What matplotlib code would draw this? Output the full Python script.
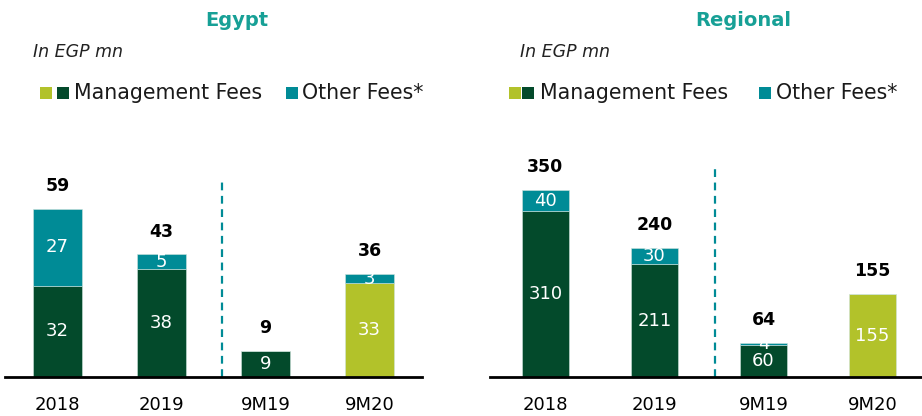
import matplotlib
matplotlib.use("Agg")
import matplotlib.pyplot as plt
from matplotlib.patches import Rectangle

plt.rcParams["font.family"] = ["DejaVu Sans"]

W, H = 922, 416

periods = ["2018", "2019", "9M19", "9M20"]

egypt_mgmt = [32, 38, 9, 33]
egypt_other = [27, 5, 0, 3]
egypt_total = [59, 43, 9, 36]

regional_mgmt = [310, 211, 60, 155]
regional_other = [40, 30, 4, 0]
regional_total = [350, 240, 64, 155]

DARK = "#034a2b"
LIME = "#b2c22a"
TEAL = "#008b96"
TITLE = "#17a096"
mgmt_colors = [DARK, DARK, DARK, LIME]


def px_axes(x0, x1, y_top, y_base):
    """Axes placed by pixel box (y measured from the top)."""
    return fig.add_axes([x0 / W, 1 - y_base / H, (x1 - x0) / W, (y_base - y_top) / H])


def panel(ax, mgmt, other, total, xlim, ymax, width, sep_x, sep_top):
    xs = range(len(periods))
    ax.bar(xs, mgmt, width=width, color=mgmt_colors, edgecolor="#cfe3dc", linewidth=0.4)
    ax.bar(xs, other, width=width, bottom=mgmt, color=TEAL, edgecolor="#cfe3dc", linewidth=0.4)
    for x, m, o, t in zip(xs, mgmt, other, total):
        ax.text(x, m / 2, str(m), ha="center", va="center", color="white", fontsize=13)
        if o:
            ax.text(x, m + o / 2, str(o), ha="center", va="center", color="white", fontsize=13)
        ax.annotate(str(t), (x, m + o), xytext=(0, 16.5), textcoords="offset points",
                    ha="center", va="center", fontsize=12.5, fontweight="bold", color="black")
    ax.axvline(sep_x, ymin=0, ymax=sep_top / ymax, color=TEAL, linestyle=(0, (3.5, 2.5)),
               linewidth=1.6)
    ax.set_xlim(*xlim)
    ax.set_ylim(0, ymax)
    ax.set_xticks(list(xs))
    ax.set_xticklabels(periods, fontsize=13)
    ax.tick_params(axis="x", length=0, pad=14)
    ax.set_yticks([])
    for side in ("top", "left", "right"):
        ax.spines[side].set_visible(False)
    ax.spines["bottom"].set_linewidth(2)
    ax.spines["bottom"].set_color("black")


def legend(x_lime, x_dark, x_text1, x_teal, x_text2, yc=93, sq=12):
    for x, c in ((x_lime, LIME), (x_dark, DARK), (x_teal, TEAL)):
        fig.add_artist(Rectangle((x / W, 1 - (yc + sq / 2) / H), sq / W, sq / H,
                                 transform=fig.transFigure, color=c, lw=0))
    fig.text(x_text1 / W, 1 - yc / H, "Management Fees", fontsize=14.8, va="center",
             color="#1a1a1a")
    fig.text(x_text2 / W, 1 - yc / H, "Other Fees*", fontsize=14.8, va="center",
             color="#1a1a1a")


fig = plt.figure(figsize=(W / 100, H / 100), dpi=100)

# Egypt
ax1 = px_axes(5, 422, 130, 377)
panel(ax1, egypt_mgmt, egypt_other, egypt_total,
      xlim=(-0.505, 3.505), ymax=247 / 2.85, width=0.47, sep_x=1.58, sep_top=197 / 2.85)
fig.text(237 / W, 1 - 20 / H, "Egypt", ha="center", va="center", fontsize=14,
         fontweight="bold", color=TITLE)
fig.text(33 / W, 1 - 52 / H, "In EGP mn", ha="left", va="center", fontsize=12.5,
         style="italic", color="#222222")
legend(40, 57, 74, 286, 302)

# Regional
ax2 = px_axes(490, 922, 130, 377)
panel(ax2, regional_mgmt, regional_other, regional_total,
      xlim=(-0.509, 3.454), ymax=247 / 0.534, width=0.43, sep_x=1.555, sep_top=210 / 0.534)
fig.text(743 / W, 1 - 20 / H, "Regional", ha="center", va="center", fontsize=14,
         fontweight="bold", color=TITLE)
fig.text(520 / W, 1 - 52 / H, "In EGP mn", ha="left", va="center", fontsize=12.5,
         style="italic", color="#222222")
legend(509, 522, 540, 759, 776)

fig.savefig("out.png", dpi=100)
